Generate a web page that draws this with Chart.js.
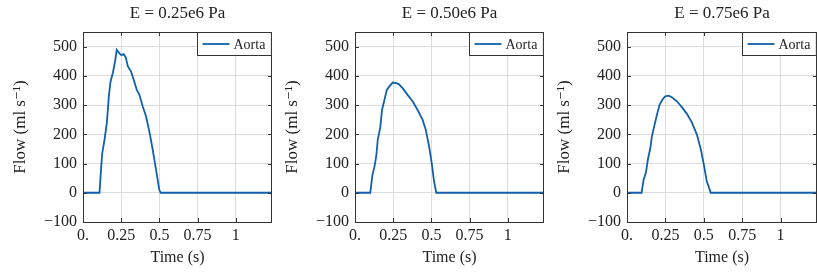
<!DOCTYPE html>
<html>
<head>
<meta charset="utf-8">
<script src="https://cdn.jsdelivr.net/npm/chart.js@4/dist/chart.umd.min.js"></script>
<style>
    body { margin: 0; background: #fff; }
    .row { position: relative; width: 817px; height: 273px; }
    .panel { position: absolute; top: 0; height: 273px; }
</style>
</head>
<body>
<div class="row">
    <div class="panel" style="left:0;width:272px"><canvas id="c1"></canvas></div>
    <div class="panel" style="left:272px;width:272px"><canvas id="c2"></canvas></div>
    <div class="panel" style="left:544px;width:273px"><canvas id="c3"></canvas></div>
</div>
<script>
// panel titles
const titles = ['E = 0.25e6 Pa', 'E = 0.50e6 Pa', 'E = 0.75e6 Pa'];
const seriesLabel = 'Aorta';

// E = 0.25e6 Pa
const time1 = [0, 0.108, 0.118, 0.126, 0.141, 0.156, 0.169, 0.180, 0.195, 0.210, 0.221, 0.228, 0.240, 0.252, 0.266, 0.279, 0.294, 0.315, 0.336, 0.352, 0.369, 0.391, 0.413, 0.434, 0.456, 0.478, 0.499, 0.508, 1.237];
const flow1 = [0, 0, 80, 136, 182, 239, 329, 380, 409, 450, 489, 484, 476, 471, 474, 464, 432, 414, 380, 352, 335, 295, 261, 210, 148, 79, 11, 0, 0];

// E = 0.50e6 Pa
const time2 = [0, 0.100, 0.113, 0.128, 0.139, 0.149, 0.165, 0.177, 0.193, 0.208, 0.225, 0.247, 0.268, 0.286, 0.312, 0.344, 0.377, 0.409, 0.442, 0.463, 0.485, 0.502, 0.517, 0.532, 1.237];
const flow2 = [0, 0, 57, 91, 125, 182, 222, 284, 318, 352, 364, 377, 375, 372, 358, 335, 313, 284, 250, 216, 159, 102, 40, 0, 0];

// E = 0.75e6 Pa
const time3 = [0, 0.095, 0.108, 0.123, 0.136, 0.152, 0.162, 0.177, 0.195, 0.212, 0.232, 0.249, 0.271, 0.292, 0.325, 0.357, 0.390, 0.422, 0.455, 0.481, 0.502, 0.519, 0.545, 1.237];
const flow3 = [0, 0, 45, 68, 114, 153, 193, 227, 267, 301, 320, 330, 332, 327, 313, 293, 270, 241, 199, 148, 91, 40, 0, 0];

const xTicks = [0, 0.25, 0.5, 0.75, 1];
const xTickLabels = ['0.', '0.25', '0.5', '0.75', '1'];
const yTicks = [-100, 0, 100, 200, 300, 400, 500];
const yTickLabels = ['\u2212100', '0', '100', '200', '300', '400', '500'];

const FONT = "'Liberation Serif', 'DejaVu Serif', serif";
const lineColor = '#115fad';

// title over the plot area, axis box, inner tick marks and legend box
const boxPlugin = {
    id: 'boxPlugin',
    afterDraw(chart) {
        const ctx = chart.ctx;
        const a = chart.chartArea;
        const xs = chart.scales.x, ys = chart.scales.y;
        ctx.save();

        ctx.fillStyle = '#222';
        ctx.font = '17px ' + FONT;
        ctx.textAlign = 'center';
        ctx.textBaseline = 'middle';
        ctx.fillText(chart.options.plugins.boxPlugin.title, (a.left + a.right) / 2, 14);
        ctx.textAlign = 'left';

        ctx.strokeStyle = '#333';
        ctx.lineWidth = 1;
        ctx.beginPath();
        xTicks.forEach(v => {
            const px = Math.round(xs.getPixelForValue(v)) + 0.5;
            ctx.moveTo(px, a.bottom); ctx.lineTo(px, a.bottom - 4);
            ctx.moveTo(px, a.top); ctx.lineTo(px, a.top + 4);
        });
        yTicks.forEach(v => {
            const py = Math.round(ys.getPixelForValue(v)) + 0.5;
            ctx.moveTo(a.left, py); ctx.lineTo(a.left + 4, py);
            ctx.moveTo(a.right, py); ctx.lineTo(a.right - 4, py);
        });
        ctx.stroke();
        ctx.strokeRect(Math.round(a.left) + 0.5, Math.round(a.top) + 0.5,
            Math.round(a.right - a.left) - 1, Math.round(a.bottom - a.top));

        // legend
        const label = chart.data.datasets[0].label;
        ctx.font = '14px ' + FONT;
        const tw = ctx.measureText(label).width;
        const w = 5 + 27 + 4 + tw + 7, h = 23;
        const bx = Math.round(a.right - w) + 0.5, by = Math.round(a.top) + 0.5;
        ctx.fillStyle = '#fff';
        ctx.fillRect(bx, by, w - 1, h);
        ctx.strokeStyle = '#333';
        ctx.strokeRect(bx, by, w - 1, h);
        ctx.strokeStyle = lineColor;
        ctx.lineWidth = 1.8;
        ctx.beginPath();
        ctx.moveTo(bx + 5, by + h / 2);
        ctx.lineTo(bx + 32, by + h / 2);
        ctx.stroke();
        ctx.fillStyle = '#222';
        ctx.textBaseline = 'middle';
        ctx.fillText(label, bx + 36, by + h / 2 + 1);
        ctx.restore();
    }
};

function makeChart(id, title, time, flow) {
    const ctx = document.getElementById(id).getContext('2d');
    return new Chart(ctx, {
        type: 'line',
        data: {
            datasets: [{
                label: seriesLabel,
                data: time.map((t, i) => ({ x: t, y: flow[i] })),
                borderColor: lineColor,
                borderWidth: 1.8,
                pointRadius: 0,
                tension: 0,
                fill: false
            }]
        },
        options: {
            responsive: true,
            maintainAspectRatio: false,
            animation: false,
            layout: { padding: { left: 0, right: 0, top: 32, bottom: 0 } },
            plugins: {
                legend: { display: false },
                tooltip: { enabled: false },
                title: { display: false },
                boxPlugin: { title: title }
            },
            scales: {
                x: {
                    type: 'linear',
                    min: 0,
                    max: 1.237,
                    afterBuildTicks: s => { s.ticks = xTicks.map(v => ({ value: v })); },
                    afterFit: s => { s.height = 51; },
                    ticks: {
                        color: '#222',
                        font: { family: FONT, size: 16 },
                        padding: 4,
                        maxRotation: 0,
                        callback: v => xTickLabels[xTicks.indexOf(v)]
                    },
                    grid: { color: '#dddddd', drawTicks: false },
                    border: { display: false },
                    title: {
                        display: true,
                        text: 'Time (s)',
                        color: '#222',
                        font: { family: FONT, size: 16 },
                        padding: { top: 0, bottom: 6 }
                    }
                },
                y: {
                    type: 'linear',
                    min: -100,
                    max: 550,
                    afterBuildTicks: s => { s.ticks = yTicks.map(v => ({ value: v })); },
                    afterFit: s => { s.width = 83; },
                    ticks: {
                        color: '#222',
                        font: { family: FONT, size: 16 },
                        padding: 6,
                        callback: v => yTickLabels[yTicks.indexOf(v)]
                    },
                    grid: { color: '#dddddd', drawTicks: false },
                    border: { display: false },
                    title: {
                        display: true,
                        text: 'Flow (ml s\u207B\u00B9)',
                        color: '#222',
                        font: { family: FONT, size: 17 },
                        padding: { top: 10, bottom: 0 }
                    }
                }
            }
        },
        plugins: [boxPlugin]
    });
}

makeChart('c1', titles[0], time1, flow1);
makeChart('c2', titles[1], time2, flow2);
makeChart('c3', titles[2], time3, flow3);
</script>
</body>
</html>
